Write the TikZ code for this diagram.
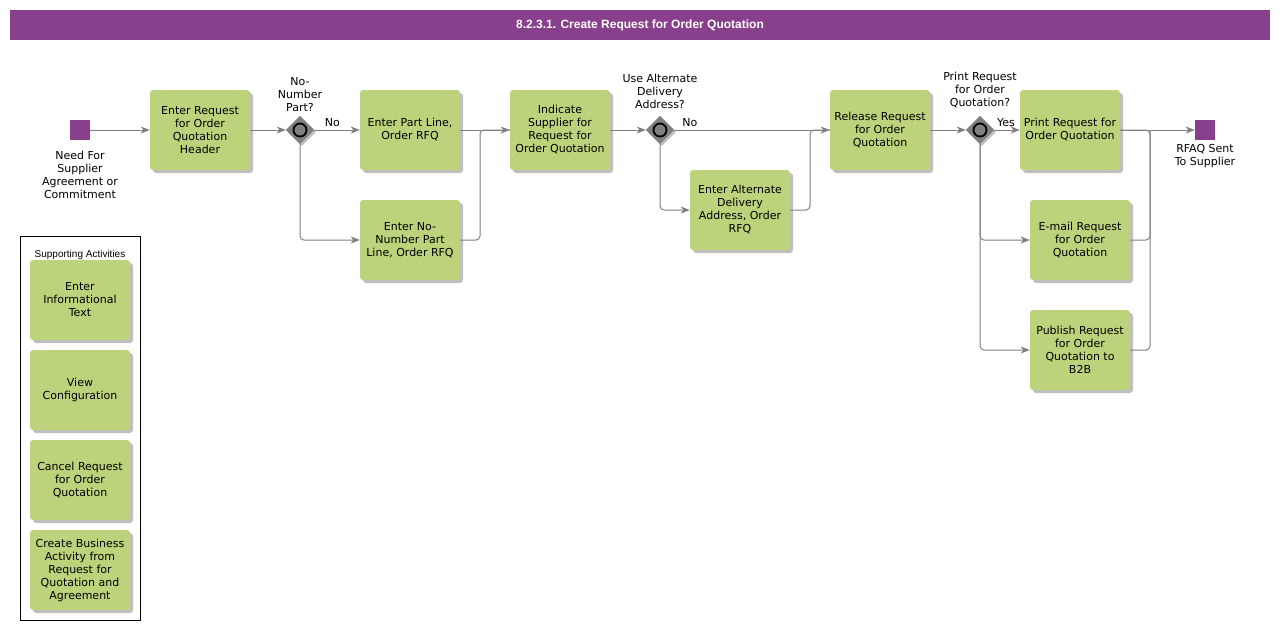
\documentclass[tikz,border=0pt]{standalone}
\usepackage{fontspec}
\setmainfont{DejaVu Sans}
\newfontfamily\arialfont{Liberation Sans}
\usetikzlibrary{shapes.geometric,shadows,arrows.meta}
\definecolor{titlepurple}{RGB}{136,64,140}
\definecolor{taskgreen}{RGB}{188,211,124}
\definecolor{flowgray}{RGB}{128,128,128}
\def\boxfont{\fontsize{11}{13}\selectfont}
\def\titlefont{\arialfont\fontsize{12}{14}\selectfont\bfseries}
\def\smallfont{\arialfont\fontsize{10}{12}\selectfont}

\begin{document}
\begin{tikzpicture}[x=1pt, y=-1pt,
                    every node/.style = {align=center, font=\boxfont},
                    task/.style = {shape=rectangle, rounded corners=3pt,
                      fill=taskgreen, minimum width=100pt, minimum height=80pt,
                      inner sep=0pt,
                      drop shadow={shadow xshift=3pt, shadow yshift=-3pt,
                        fill=black, opacity=.25}},
                    gate/.style = {shape=diamond, fill=flowgray, draw=black!45,
                      minimum width=28pt, minimum height=28pt, inner sep=0pt,
                      drop shadow={shadow xshift=2pt, shadow yshift=-2pt,
                        fill=black, opacity=.25}},
                    ring/.style = {shape=circle, draw=black, line width=1.8pt,
                      fill=flowgray, minimum size=13pt, inner sep=0pt},
                    event/.style = {shape=rectangle, fill=titlepurple,
                      minimum size=20pt, inner sep=0pt},
                    flow/.style = {draw=flowgray, line width=1pt, rounded corners=4pt,
                      -{Stealth[length=9pt, width=7pt, inset=2.5pt]}},
                    link/.style = {draw=flowgray, line width=1pt, rounded corners=4pt}]
  \useasboundingbox (0,0) rectangle (1280,630);
  \node[fill=titlepurple, minimum width=1260pt, minimum height=30pt,
        text=white, font=\titlefont] (title) at (640,25)
        {8.2.3.1. Create Request for Order Quotation};

  \node[event] (start) at (80,130) {};
  \node (startlbl) at (80,174.5) {Need For\\ Supplier\\ Agreement or\\ Commitment};
  \node[task] (header) at (200,130) {Enter Request\\ for Order\\ Quotation\\ Header};
  \node[gate] (nonum) at (300,130) {};
  \node[ring] (nonumring) at (nonum.center) {};
  \node (nonumlbl) at (300,95) {No-\\ Number\\ Part?};
  \node[task] (partline) at (410,130) {Enter Part Line,\\ Order RFQ};
  \node[task] (nonumline) at (410,240) {Enter No-\\ Number Part\\ Line, Order RFQ};
  \node[task] (supplier) at (560,130) {Indicate\\ Supplier for\\ Request for\\ Order Quotation};
  \node[gate] (altaddr) at (660,130) {};
  \node[ring] (altaddrring) at (altaddr.center) {};
  \node (altaddrlbl) at (660,91) {Use Alternate\\ Delivery\\ Address?};
  \node[task] (address) at (740,210) {Enter Alternate\\ Delivery\\ Address, Order\\ RFQ};
  \node[task] (release) at (880,130) {Release Request\\ for Order\\ Quotation};
  \node[gate] (print) at (980,130) {};
  \node[ring] (printring) at (print.center) {};
  \node (printlbl) at (980,90) {Print Request\\ for Order\\ Quotation?};
  \node[task] (printrfq) at (1070,130) {Print Request for\\ Order Quotation};
  \node[task] (email) at (1080,240) {E-mail Request\\ for Order\\ Quotation};
  \node[task] (publish) at (1080,350) {Publish Request\\ for Order\\ Quotation to\\ B2B};
  \node[event] (sent) at (1205,130) {};
  \node (sentlbl) at (1205,156.5) {RFAQ Sent\\ To Supplier};

  \coordinate (join1) at (480,130);
  \coordinate (join2) at (810,130);
  \coordinate (join3) at (1150,130);

  \draw[flow] (start) -- (header);
  \draw[flow] (header) -- (nonum);
  \draw[flow] (nonum) -- node[above, pos=.4] {No} (partline);
  \draw[flow] (nonum.south) |- (nonumline);
  \draw[flow] (partline) -- (supplier);
  \draw[link] (nonumline.east) -| (join1) -- (supplier.west);
  \draw[flow] (supplier) -- (altaddr);
  \draw[flow] (altaddr) -- node[above, pos=.1] {No} (release);
  \draw[flow] (altaddr.south) |- (address);
  \draw[link] (address.east) -| (join2) -- (release.west);
  \draw[flow] (release) -- (print);
  \draw[flow] (print) -- node[above, pos=.46] {Yes} (printrfq);
  \draw[flow] (print.south) |- (email);
  \draw[flow] (print.south) |- (publish);
  \draw[flow] (printrfq) -- (sent);
  \draw[link] (email.east) -| (join3) -- (printrfq.east);
  \draw[link] (publish.east) -| (join3);

  \node[draw=black, line width=.8pt, minimum width=120pt, minimum height=384pt]
        (support) at (80,428) {};
  \node[font=\smallfont] (supportlbl) at (80,255) {Supporting Activities};
  \node[task] (info) at (80,300) {Enter\\ Informational\\ Text};
  \node[task] (config) at (80,390) {View\\ Configuration};
  \node[task] (cancel) at (80,480) {Cancel Request\\ for Order\\ Quotation};
  \node[task] (business) at (80,570) {Create Business\\ Activity from\\ Request for\\ Quotation and\\ Agreement};
\end{tikzpicture}
\end{document}
